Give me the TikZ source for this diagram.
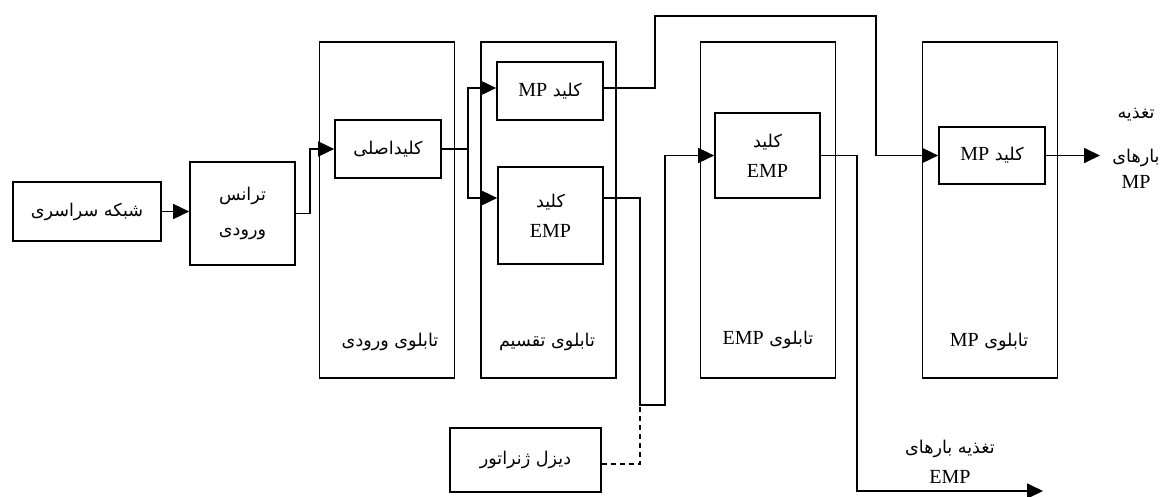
\documentclass[tikz,border=0pt]{standalone}
\usepackage{fontspec}
\setmainfont{Liberation Serif}
\newfontfamily\fa[Script=Arabic,Scale=0.88]{DejaVu Sans}
\TeXXeTstate=1
\usetikzlibrary{arrows.meta}
% Persian text runs right to left; Latin words inside it stay left to right
\newcommand\rtl[1]{{\fa\beginR #1\endR}}
\newcommand\ltr[1]{{\rmfamily\beginL #1\endL}}
\begin{document}
\begin{tikzpicture}[x=1pt,y=-1pt,
  font=\fontsize{20}{30}\selectfont,
  box/.style={draw, line width=1.7pt, inner sep=0pt, align=center},
  panel/.style={draw, line width=1.7pt, inner sep=0pt, minimum width=135pt, minimum height=336pt},
  wire/.style={line width=1.7pt},
  arr/.style={line width=1.7pt, -{Triangle[length=16pt,width=15pt]}},
  lbl/.style={inner sep=0pt, align=center}]
\useasboundingbox (0,0) rectangle (1162,496);

% switchboards
\node[panel] (pin)   at (387,210) {};
\node[panel] (pdist) at (548.5,210) {};
\node[panel] (pemp)  at (768,210) {};
\node[panel] (pmp)   at (990,210) {};
\node[lbl] (pinlbl)   at (390,342) {\rtl{تابلوی ورودی}};
\node[lbl] (pdistlbl) at (547,342) {\rtl{تابلوی تقسیم}};
\node[lbl] (pemplbl)  at (768,340) {\rtl{تابلوی \ltr{EMP}}};
\node[lbl] (pmplbl)   at (989,342) {\rtl{تابلوی \ltr{MP}}};

% devices
\node[box, minimum width=148pt, minimum height=59pt] (grid) at (87,211.5) {\rtl{شبکه سراسری}};
\node[box, minimum width=105pt, minimum height=103pt] (trans) at (242.5,213.5) {\rtl{ترانس}\\[5pt]\rtl{ورودی}};
\node[box, minimum width=106pt, minimum height=58pt] (main) at (388,149) {\rtl{کلیداصلی}};
\node[box, minimum width=106pt, minimum height=58pt] (kmp1) at (550,91) {\rtl{کلید \ltr{MP}}};
\node[box, minimum width=105pt, minimum height=97pt] (kemp1) at (550.5,215.5) {\rtl{کلید}\\\ltr{EMP}};
\node[box, minimum width=105pt, minimum height=85pt] (kemp2) at (767.5,155.5) {\rtl{کلید}\\\ltr{EMP}};
\node[box, minimum width=106pt, minimum height=57pt] (kmp2) at (992,155.5) {\rtl{کلید \ltr{MP}}};
\node[box, minimum width=151pt, minimum height=64pt] (diesel) at (525.5,460) {\rtl{دیزل ژنراتور}};

% load outputs
\coordinate (mpout) at (1100,155.5);
\coordinate (empout) at (1043,491);
\node[lbl] (mplbl) at (1136,148) {\rtl{تغذیه}\\[14pt]\rtl{بارهای}\\[-4pt]\ltr{MP}};
\node[lbl] (emplbl) at (950,462) {\rtl{تغذیه بارهای}\\\ltr{EMP}};

% connections
\draw[arr] (grid.east) -- (grid.east -| trans.west);
\draw[arr] (trans.east) -- ++(14,0) |- (main.west);
\draw[wire] (main.east) -- ++(26,0) coordinate (split);
\draw[arr] (split) |- ([yshift=3pt]kmp1.west);
\draw[arr] (split) |- ([yshift=17.5pt]kemp1.west);
\draw[arr] ([yshift=3pt]kmp1.east) -- ++(51,0) -- ++(0,-72) -- ++(221,0) |- (kmp2.west);
\draw[arr] ([yshift=17.5pt]kemp1.east) -- ++(36,0) -- ++(0,207) coordinate (dj) -- ++(25,0) |- (kemp2.west);
\draw[wire, dashed, dash pattern=on 5pt off 4pt] ([yshift=-4pt]diesel.east) -| (dj);
\draw[arr] (kemp2.east) -- ++(36,0) |- (empout);
\draw[arr] (kmp2.east) -- (mpout);
\end{tikzpicture}
\end{document}
